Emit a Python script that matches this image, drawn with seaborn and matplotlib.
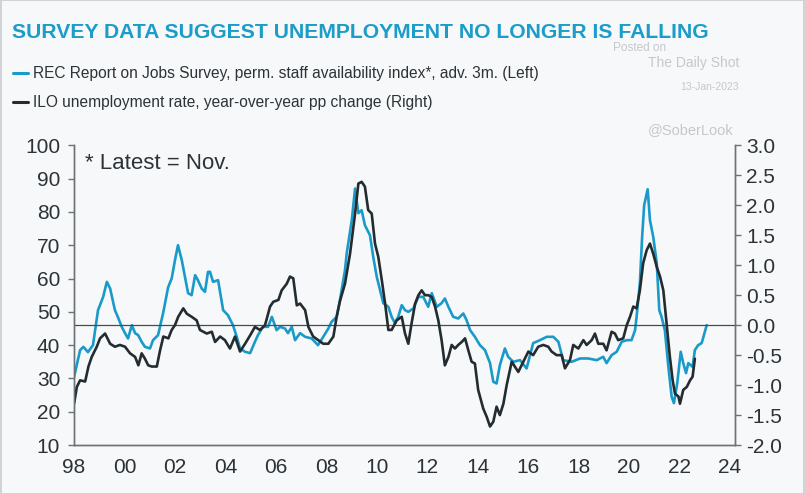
import numpy as np
import pandas as pd
import matplotlib
matplotlib.use("Agg")
from matplotlib import pyplot as plt
from matplotlib.patches import Rectangle
import seaborn as sns

# REC staff availability index, advanced 3m (left axis), decimal years
rec_years = [1998.00, 1998.24, 1998.37, 1998.55, 1998.75, 1998.95, 1999.15, 1999.30, 1999.43, 1999.62,
             1999.74, 1999.89, 2000.02, 2000.14, 2000.29, 2000.42, 2000.54, 2000.68, 2000.81, 2001.01,
             2001.13, 2001.33, 2001.53, 2001.73, 2001.87, 2002.00, 2002.12, 2002.27, 2002.40, 2002.52,
             2002.66, 2002.80, 2002.91, 2003.06, 2003.19, 2003.31, 2003.39, 2003.51, 2003.71, 2003.91,
             2004.10, 2004.30, 2004.45, 2004.58, 2004.78, 2004.98, 2005.17, 2005.29, 2005.49, 2005.69,
             2005.84, 2006.03, 2006.16, 2006.36, 2006.48, 2006.63, 2006.76, 2006.96, 2007.16, 2007.42,
             2007.67, 2007.88, 2008.08, 2008.21, 2008.41, 2008.54, 2008.74, 2008.81, 2009.01, 2009.14,
             2009.27, 2009.40, 2009.53, 2009.73, 2009.86, 2010.00, 2010.13, 2010.26, 2010.46, 2010.59,
             2010.72, 2010.85, 2010.99, 2011.12, 2011.25, 2011.45, 2011.65, 2011.84, 2012.04, 2012.18,
             2012.38, 2012.57, 2012.70, 2012.84, 2013.03, 2013.23, 2013.43, 2013.56, 2013.70, 2013.89,
             2014.09, 2014.29, 2014.49, 2014.62, 2014.75, 2014.88, 2015.08, 2015.21, 2015.41, 2015.68,
             2015.94, 2016.20, 2016.47, 2016.74, 2017.00, 2017.20, 2017.39, 2017.73, 2018.06, 2018.38,
             2018.72, 2018.98, 2019.11, 2019.31, 2019.51, 2019.71, 2019.91, 2020.10, 2020.24, 2020.30,
             2020.43, 2020.52, 2020.60, 2020.74, 2020.83, 2020.96, 2021.10, 2021.20, 2021.29, 2021.42,
             2021.56, 2021.69, 2021.78, 2021.91, 2022.05, 2022.15, 2022.26, 2022.35, 2022.52, 2022.61,
             2022.74, 2022.88, 2022.97, 2023.08]
rec_values = [30.4, 38.5, 39.5, 37.9, 40.0, 50.5, 54.4, 59.0, 57.0, 50.5,
              48.4, 45.5, 43.6, 42.0, 46.0, 43.6, 43.0, 41.0, 39.5, 39.0,
              41.5, 43.0, 49.6, 57.4, 60.0, 65.5, 70.0, 65.5, 60.4, 55.6,
              55.0, 61.0, 59.5, 57.0, 56.0, 62.0, 62.0, 59.0, 59.5, 50.5,
              49.0, 46.0, 42.5, 39.0, 38.0, 37.6, 41.0, 43.0, 45.5, 45.5,
              48.5, 44.5, 45.5, 45.0, 43.6, 45.5, 41.5, 43.6, 42.5, 42.0,
              40.0, 42.5, 45.0, 47.0, 48.5, 53.5, 62.5, 67.6, 77.5, 87.0,
              79.6, 80.5, 76.0, 73.0, 66.5, 60.5, 56.5, 52.6, 51.5, 48.5,
              46.6, 48.5, 52.0, 50.5, 50.0, 51.0, 54.5, 54.5, 51.5, 55.6,
              51.5, 52.6, 54.0, 51.5, 48.5, 48.0, 49.5, 47.5, 44.5, 42.5,
              40.0, 38.5, 34.6, 29.0, 28.5, 34.0, 39.0, 36.5, 35.0, 35.5,
              33.0, 40.6, 41.5, 42.5, 42.5, 41.0, 35.5, 35.0, 36.0, 36.0,
              35.5, 36.5, 34.6, 37.0, 38.0, 41.0, 41.5, 41.5, 44.5, 48.5,
              58.6, 72.5, 82.0, 86.8, 77.5, 72.5, 64.6, 50.5, 48.5, 44.5,
              33.5, 24.5, 22.6, 28.5, 38.0, 34.6, 31.6, 34.6, 33.5, 38.5,
              40.0, 40.6, 43.0, 46.0]

# ILO unemployment rate, y/y pp change (right axis)
ilo_years = [1998.00, 1998.11, 1998.24, 1998.44, 1998.57, 1998.70, 1998.90, 1999.03, 1999.23, 1999.43,
             1999.62, 1999.82, 2000.02, 2000.22, 2000.42, 2000.55, 2000.68, 2000.81, 2000.94, 2001.08,
             2001.28, 2001.41, 2001.54, 2001.74, 2001.87, 2002.00, 2002.13, 2002.33, 2002.47, 2002.66,
             2002.86, 2002.99, 2003.26, 2003.46, 2003.59, 2003.79, 2003.98, 2004.18, 2004.38, 2004.58,
             2004.78, 2004.98, 2005.17, 2005.37, 2005.57, 2005.77, 2005.90, 2006.10, 2006.23, 2006.43,
             2006.56, 2006.69, 2006.83, 2006.96, 2007.16, 2007.29, 2007.48, 2007.68, 2007.88, 2008.08,
             2008.28, 2008.41, 2008.54, 2008.74, 2008.94, 2009.14, 2009.27, 2009.40, 2009.53, 2009.66,
             2009.80, 2009.93, 2010.06, 2010.20, 2010.33, 2010.46, 2010.59, 2010.79, 2010.99, 2011.12,
             2011.25, 2011.38, 2011.52, 2011.65, 2011.78, 2011.91, 2012.04, 2012.18, 2012.31, 2012.44,
             2012.57, 2012.70, 2012.84, 2012.97, 2013.10, 2013.23, 2013.37, 2013.50, 2013.63, 2013.76,
             2013.89, 2014.02, 2014.22, 2014.36, 2014.49, 2014.62, 2014.75, 2014.88, 2015.02, 2015.15,
             2015.35, 2015.61, 2015.81, 2016.01, 2016.20, 2016.40, 2016.60, 2016.80, 2016.93, 2017.13,
             2017.33, 2017.46, 2017.66, 2017.79, 2017.99, 2018.19, 2018.32, 2018.52, 2018.65, 2018.78,
             2018.98, 2019.11, 2019.31, 2019.44, 2019.57, 2019.77, 2019.91, 2020.04, 2020.17, 2020.30,
             2020.43, 2020.56, 2020.70, 2020.83, 2020.96, 2021.10, 2021.23, 2021.36, 2021.49, 2021.62,
             2021.73, 2021.82, 2021.96, 2022.02, 2022.15, 2022.29, 2022.42, 2022.52, 2022.61]
ilo_values = [-1.31, -1.03, -0.92, -0.94, -0.69, -0.53, -0.36, -0.22, -0.14, -0.31,
              -0.36, -0.33, -0.36, -0.47, -0.53, -0.67, -0.47, -0.56, -0.67, -0.69,
              -0.69, -0.42, -0.19, -0.22, -0.08, 0.00, 0.14, 0.28, 0.19, 0.14,
              0.08, -0.08, -0.14, -0.11, -0.28, -0.19, -0.25, -0.39, -0.19, -0.44,
              -0.31, -0.17, -0.03, -0.08, 0.00, 0.31, 0.39, 0.42, 0.58, 0.69,
              0.81, 0.78, 0.33, 0.36, 0.25, -0.03, -0.19, -0.25, -0.31, -0.31,
              -0.19, 0.14, 0.40, 0.69, 1.19, 1.86, 2.36, 2.39, 2.31, 1.92,
              1.86, 1.36, 1.14, 0.75, 0.36, -0.08, -0.08, 0.08, 0.14, -0.14,
              -0.31, 0.03, 0.36, 0.50, 0.58, 0.50, 0.50, 0.47, 0.31, 0.08,
              -0.25, -0.67, -0.53, -0.33, -0.39, -0.33, -0.28, -0.22, -0.42, -0.61,
              -0.64, -1.08, -1.39, -1.53, -1.69, -1.61, -1.36, -1.50, -1.31, -1.00,
              -0.61, -0.78, -0.61, -0.44, -0.50, -0.36, -0.33, -0.36, -0.44, -0.50,
              -0.50, -0.72, -0.58, -0.33, -0.39, -0.25, -0.33, -0.25, -0.14, -0.31,
              -0.31, -0.42, -0.11, -0.14, -0.25, -0.22, 0.00, 0.14, 0.31, 0.28,
              0.58, 1.03, 1.25, 1.36, 1.19, 0.97, 0.81, 0.58, 0.03, -0.53,
              -0.92, -1.14, -1.19, -1.31, -1.08, -1.03, -0.92, -0.86, -0.56]

left_ticks = [10, 20, 30, 40, 50, 60, 70, 80, 90, 100]
right_ticks = [-2.0, -1.5, -1.0, -0.5, 0.0, 0.5, 1.0, 1.5, 2.0, 2.5, 3.0]
year_ticks = list(range(1998, 2025, 2))
year_labels = ["98", "00", "02", "04", "06", "08", "10", "12", "14", "16", "18", "20", "22", "24"]

rec = pd.DataFrame({"year": rec_years, "value": rec_values})
ilo = pd.DataFrame({"year": ilo_years, "value": ilo_values})

sns.set_style("white")
plt.rcParams["font.family"] = ["Liberation Sans", "DejaVu Sans"]

BLUE = "#1a9ac9"
DARK = "#232c31"
GREY_TXT = "#2b3338"
BG = "#f7f8f9"

fig = plt.figure(figsize=(8.05, 4.94), dpi=100, facecolor=BG)
ax = fig.add_axes([0.092, 0.099, 0.821, 0.607])
ax.set_facecolor(BG)
ax2 = ax.twinx()

sns.lineplot(data=rec, x="year", y="value", ax=ax, color=BLUE, linewidth=1.9)
sns.lineplot(data=ilo, x="year", y="value", ax=ax2, color=DARK, linewidth=1.9)
ax2.axhline(0, color="#444c50", linewidth=0.9, zorder=1)

ax.set_xlim(1998, 2024.2)
ax.set_ylim(10, 100)
ax2.set_ylim(-2.0, 3.0)

ax.set_yticks(left_ticks)
ax.set_yticklabels([str(v) for v in left_ticks])
ax2.set_yticks(right_ticks)
ax2.set_yticklabels([f"{v:.1f}" for v in right_ticks])
ax.set_xticks(year_ticks)
ax.set_xticklabels(year_labels)
ax.set_xticks(range(1998, 2025), minor=True)

for a in (ax, ax2):
    a.set_xlabel("")
    a.set_ylabel("")
    a.spines["top"].set_visible(False)
    for s in ("left", "right", "bottom"):
        a.spines[s].set_color("#6b7378")
        a.spines[s].set_linewidth(1.0)
ax.tick_params(axis="both", which="both", length=4, width=1.0, color="#6b7378",
               labelsize=15, labelcolor=GREY_TXT, direction="out")
ax.tick_params(axis="y", pad=6)
ax.tick_params(axis="x", pad=5)
ax2.tick_params(axis="y", length=4, width=1.0, color="#6b7378", labelsize=15,
                labelcolor=GREY_TXT, direction="out", pad=4)

# title and legend lines
fig.text(0.015, 0.935, "SURVEY DATA SUGGEST UNEMPLOYMENT NO LONGER IS FALLING",
         color="#1b9cc9", fontsize=15.2, fontweight="bold", va="center", ha="left")
leg_items = [("REC Report on Jobs Survey, perm. staff availability index*, adv. 3m. (Left)", BLUE, 0.852),
             ("ILO unemployment rate, year-over-year pp change (Right)", DARK, 0.793)]
for txt, col, yy in leg_items:
    fig.add_artist(plt.Line2D([0.016, 0.035], [yy, yy], color=col, linewidth=2.2))
    fig.text(0.041, yy, txt, color=GREY_TXT, fontsize=11.2, va="center", ha="left")

ax.text(0.017, 0.94, "* Latest = Nov.", transform=ax.transAxes, fontsize=16,
        color=GREY_TXT, va="center", ha="left")

# watermark
wm = "#c4c8cc"
fig.text(0.762, 0.903, "Posted on", color=wm, fontsize=8.5, ha="left", va="center")
fig.text(0.805, 0.872, "The Daily Shot", color=wm, fontsize=10, ha="left", va="center")
fig.text(0.845, 0.823, "13-Jan-2023", color=wm, fontsize=7.5, ha="left", va="center")
fig.text(0.805, 0.737, "@SoberLook", color=wm, fontsize=10.5, ha="left", va="center")

fig.add_artist(Rectangle((0.001, 0.001), 0.998, 0.998, transform=fig.transFigure,
                         fill=False, edgecolor="#c9cdd0", linewidth=1.2))

fig.savefig("out.png", dpi=100, facecolor=BG)
